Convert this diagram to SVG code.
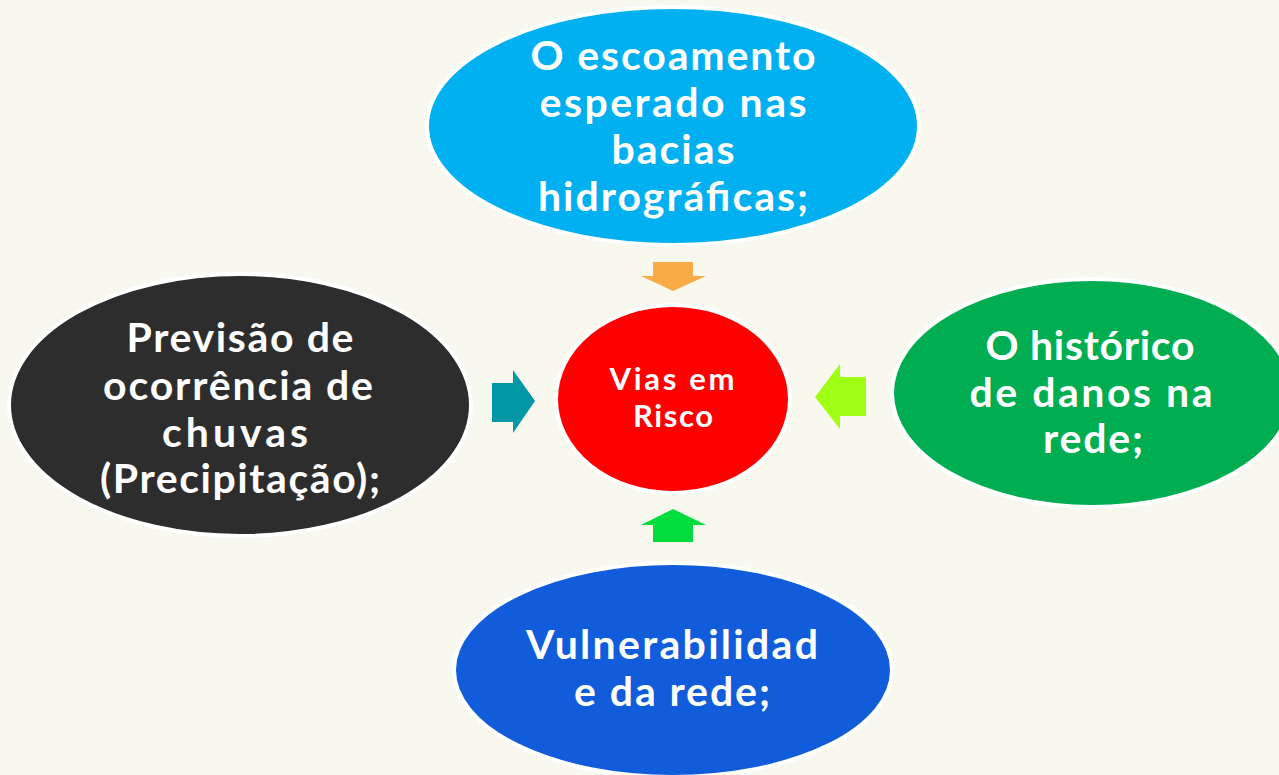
<svg xmlns="http://www.w3.org/2000/svg" width="1279" height="775" viewBox="0 0 1279 775">
<style>
.node ellipse{stroke:#FFFFFF;stroke-width:4}
.lbl{font-family:"Lato","Liberation Sans",sans-serif;font-weight:700;fill:#FFFFFF;text-anchor:middle;font-size:41px}
.small{font-size:31px}
</style>
<rect width="1279" height="775" fill="#F8F8EE"/>
<g id="connectors">
<polygon id="arrow-top" points="653,262 693,262 693,276 706,276 673,291 641,276 653,276" fill="#FBAB45"/>
<polygon id="arrow-left" points="492,383 513,383 513,370 535,401 513,433 513,422 492,422" fill="#0097A7"/>
<polygon id="arrow-right" points="866,377 840,377 840,364 815,397 840,429 840,416 866,416" fill="#9EFF12"/>
<polygon id="arrow-bottom" points="653,542 693,542 693,525 706,525 673,509 641,525 653,525" fill="#00DD3C"/>
</g>
<g id="node-top" class="node">
<ellipse cx="673" cy="126" rx="246" ry="119" fill="#00B0F0"/>
<text class="lbl" x="673" y="70" textLength="285" lengthAdjust="spacing">O escoamento</text>
<text class="lbl" x="673" y="117" textLength="267" lengthAdjust="spacing">esperado nas</text>
<text class="lbl" x="673" y="164" textLength="123" lengthAdjust="spacing">bacias</text>
<text class="lbl" x="673" y="211" textLength="270" lengthAdjust="spacing">hidrográficas;</text>
</g>
<g id="node-left" class="node">
<ellipse cx="240" cy="405" rx="231" ry="131" fill="#2D2D2D"/>
<text class="lbl" x="240" y="352" textLength="227" lengthAdjust="spacing">Previsão de</text>
<text class="lbl" x="238" y="400" textLength="270" lengthAdjust="spacing">ocorrência de</text>
<text class="lbl" x="235" y="447" textLength="146" lengthAdjust="spacing">chuvas</text>
<text class="lbl" x="240" y="493" textLength="280" lengthAdjust="spacing">(Precipitação);</text>
</g>
<g id="node-right" class="node">
<ellipse cx="1092" cy="393" rx="200" ry="114" fill="#00AD50"/>
<text class="lbl" x="1090" y="360" textLength="209" lengthAdjust="spacing">O histórico</text>
<text class="lbl" x="1091" y="407" textLength="243" lengthAdjust="spacing">de danos na</text>
<text class="lbl" x="1093" y="453" textLength="100" lengthAdjust="spacing">rede;</text>
</g>
<g id="node-bottom" class="node">
<ellipse cx="673" cy="670" rx="219" ry="107" fill="#105CDB"/>
<text class="lbl" x="672" y="659" textLength="292" lengthAdjust="spacing">Vulnerabilidad</text>
<text class="lbl" x="672" y="706" textLength="196" lengthAdjust="spacing">e da rede;</text>
</g>
<g id="node-center" class="node">
<ellipse cx="673" cy="399" rx="117" ry="94" fill="#FF0000"/>
<text class="lbl small" x="672" y="390" textLength="125" lengthAdjust="spacing">Vias em</text>
<text class="lbl small" x="673" y="427" textLength="80" lengthAdjust="spacing">Risco</text>
</g>
</svg>
